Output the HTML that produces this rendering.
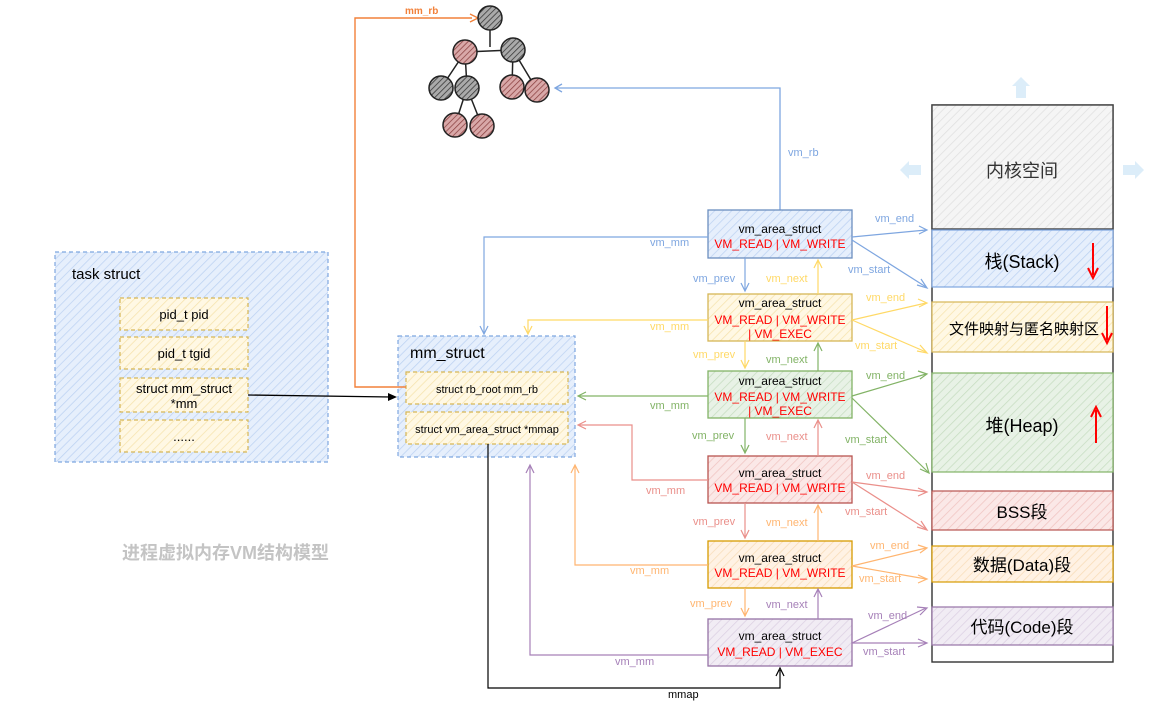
<!DOCTYPE html>
<html><head><meta charset="utf-8"><style>
html,body{margin:0;padding:0;background:#fff;}
svg{display:block;font-family:"Liberation Sans","Noto Sans CJK SC",sans-serif;}
</style></head><body>
<svg width="1175" height="725" viewBox="0 0 1175 725" xmlns="http://www.w3.org/2000/svg">
<defs>
<pattern id="hb" width="6" height="6" patternUnits="userSpaceOnUse" patternTransform="rotate(45)"><rect width="6" height="6" fill="#e6effc"/><line x1="0" y1="0" x2="0" y2="6" stroke="#bcd2f2" stroke-width="1.5"/></pattern>
<pattern id="hy" width="6" height="6" patternUnits="userSpaceOnUse" patternTransform="rotate(45)"><rect width="6" height="6" fill="#fff8e4"/><line x1="0" y1="0" x2="0" y2="6" stroke="#f6e3ad" stroke-width="1.5"/></pattern>
<pattern id="hg" width="6" height="6" patternUnits="userSpaceOnUse" patternTransform="rotate(45)"><rect width="6" height="6" fill="#e8f2e6"/><line x1="0" y1="0" x2="0" y2="6" stroke="#c6ddc1" stroke-width="1.5"/></pattern>
<pattern id="hr" width="6" height="6" patternUnits="userSpaceOnUse" patternTransform="rotate(45)"><rect width="6" height="6" fill="#fbe8e7"/><line x1="0" y1="0" x2="0" y2="6" stroke="#f0c3c0" stroke-width="1.5"/></pattern>
<pattern id="ho" width="6" height="6" patternUnits="userSpaceOnUse" patternTransform="rotate(45)"><rect width="6" height="6" fill="#fff2e4"/><line x1="0" y1="0" x2="0" y2="6" stroke="#f8dcb8" stroke-width="1.5"/></pattern>
<pattern id="hp" width="6" height="6" patternUnits="userSpaceOnUse" patternTransform="rotate(45)"><rect width="6" height="6" fill="#f1ecf4"/><line x1="0" y1="0" x2="0" y2="6" stroke="#dcd0e3" stroke-width="1.5"/></pattern>
<pattern id="hk" width="6" height="6" patternUnits="userSpaceOnUse" patternTransform="rotate(45)"><rect width="6" height="6" fill="#f5f5f5"/><line x1="0" y1="0" x2="0" y2="6" stroke="#e0e0e0" stroke-width="1.5"/></pattern>
<pattern id="tg" width="4" height="4" patternUnits="userSpaceOnUse" patternTransform="rotate(45)"><rect width="4" height="4" fill="#aaa"/><line x1="0" y1="0" x2="0" y2="4" stroke="#333" stroke-width="1.5"/></pattern>
<pattern id="tr" width="4" height="4" patternUnits="userSpaceOnUse" patternTransform="rotate(45)"><rect width="4" height="4" fill="#d9a8a8"/><line x1="0" y1="0" x2="0" y2="4" stroke="#8a4040" stroke-width="1.5"/></pattern>
</defs>

<rect x="55" y="252" width="273" height="210" fill="url(#hb)" stroke="#7ea6e0" stroke-dasharray="4 3" stroke-width="1.2"/>
<text x="72" y="279" font-size="15" fill="#000">task struct</text>
<g fill="url(#hy)" stroke="#d6b656" stroke-dasharray="4 3" stroke-width="1.2">
<rect x="120" y="298" width="128" height="32"/><rect x="120" y="337" width="128" height="32"/>
<rect x="120" y="378" width="128" height="34"/><rect x="120" y="420" width="128" height="32"/></g>
<g font-size="13" text-anchor="middle" fill="#000">
<text x="184" y="319">pid_t pid</text><text x="184" y="358">pid_t tgid</text>
<text x="184" y="393">struct mm_struct</text><text x="184" y="408">*mm</text><text x="184" y="441">......</text></g>

<text x="122" y="559" font-size="18" font-weight="bold" fill="#c4c4c4">进程虚拟内存VM结构模型</text>

<rect x="398" y="336" width="177" height="121" fill="url(#hb)" stroke="#7ea6e0" stroke-dasharray="4 3" stroke-width="1.2"/>
<text x="410" y="358" font-size="16" fill="#000">mm_struct</text>
<g fill="url(#hy)" stroke="#d6b656" stroke-dasharray="4 3" stroke-width="1.2">
<rect x="406" y="372" width="162" height="32"/><rect x="406" y="412" width="162" height="32"/></g>
<text x="487" y="393" font-size="11" text-anchor="middle">struct rb_root mm_rb</text>
<text x="487" y="433" font-size="11" text-anchor="middle">struct vm_area_struct *mmap</text>

<path d="M248 395 L392 397" stroke="#000" fill="none" stroke-width="1.3"/>
<path d="M388 393 L397 397 L388 401Z" fill="#000"/>

<path d="M406 387 L355 387 L355 18 L472 18" stroke="#f2813a" fill="none" stroke-width="1.4"/>
<path d="M470 14 L478 18 L470 22" stroke="#f2813a" fill="none" stroke-width="1.4"/>
<text x="405" y="14" font-size="10" font-weight="bold" fill="#f2813a">mm_rb</text>

<g stroke="#222" stroke-width="1.5" fill="none">
<path d="M490 30 L490 47 M465 52 L513 50 M465 52 L441 88 M465 52 L467 88 M513 50 L512 87 M513 50 L537 90 M467 88 L455 125 M467 88 L482 126"/>
</g>
<g stroke="#222" stroke-width="1.5">
<circle cx="490" cy="18" r="12" fill="url(#tg)"/>
<circle cx="465" cy="52" r="12" fill="url(#tr)"/>
<circle cx="513" cy="50" r="12" fill="url(#tg)"/>
<circle cx="441" cy="88" r="12" fill="url(#tg)"/>
<circle cx="467" cy="88" r="12" fill="url(#tg)"/>
<circle cx="512" cy="87" r="12" fill="url(#tr)"/>
<circle cx="537" cy="90" r="12" fill="url(#tr)"/>
<circle cx="455" cy="125" r="12" fill="url(#tr)"/>
<circle cx="482" cy="126" r="12" fill="url(#tr)"/>
</g>

<path d="M780 210 L780 88 L556 88" stroke="#7ea6e0" fill="none" stroke-width="1.3"/>
<path d="M562 84 L555 88 L562 92" stroke="#7ea6e0" fill="none" stroke-width="1.3"/>
<text x="788" y="156" font-size="11" fill="#7ea6e0">vm_rb</text>

<rect x="932" y="105" width="181" height="557" fill="#fff" stroke="#333" stroke-width="1.4"/>
<rect x="932" y="105" width="181" height="124" fill="url(#hk)" stroke="#444" stroke-width="1.4"/>
<text x="1022" y="177" font-size="18" text-anchor="middle" fill="#333">内核空间</text>
<g fill="#dcedf9"><path d="M1016 98 L1016 86 L1012 86 L1021 77 L1030 86 L1026 86 L1026 98Z"/>
<path d="M921 165 L909 165 L909 161 L900 170 L909 179 L909 175 L921 175Z"/>
<path d="M1123 165 L1135 165 L1135 161 L1144 170 L1135 179 L1135 175 L1123 175Z"/></g>
<rect x="932" y="230" width="181" height="57" fill="url(#hb)" stroke="#7ea6e0" stroke-width="1.2"/>
<text x="1022" y="268" font-size="18" text-anchor="middle">栈(Stack)</text>
<path d="M1093 243 L1093 275 M1088 268 L1093 278 L1098 268" stroke="#f00" stroke-width="2" fill="none"/>
<rect x="932" y="302" width="181" height="50" fill="url(#hy)" stroke="#d6b656" stroke-width="1.2"/>
<text x="1024" y="334" font-size="15" text-anchor="middle">文件映射与匿名映射区</text>
<path d="M1107 306 L1107 340 M1102 333 L1107 343 L1112 333" stroke="#f00" stroke-width="2" fill="none"/>
<rect x="932" y="373" width="181" height="99" fill="url(#hg)" stroke="#82b366" stroke-width="1.2"/>
<text x="1022" y="432" font-size="18" text-anchor="middle">堆(Heap)</text>
<path d="M1096 443 L1096 410 M1091 417 L1096 407 L1101 417" stroke="#f00" stroke-width="2" fill="none"/>
<rect x="932" y="491" width="181" height="39" fill="url(#hr)" stroke="#b85450" stroke-width="1.2"/>
<text x="1022" y="518" font-size="17" text-anchor="middle">BSS段</text>
<rect x="932" y="546" width="181" height="36" fill="url(#ho)" stroke="#d79b00" stroke-width="1.2"/>
<text x="1022" y="571" font-size="17" text-anchor="middle">数据(Data)段</text>
<rect x="932" y="607" width="181" height="38" fill="url(#hp)" stroke="#9673a6" stroke-width="1.2"/>
<text x="1022" y="633" font-size="17" text-anchor="middle">代码(Code)段</text>

<g stroke-width="1.3">
<rect x="708" y="210" width="144" height="48" fill="url(#hb)" stroke="#6c8ebf"/>
<rect x="708" y="294" width="144" height="47" fill="url(#hy)" stroke="#d6b656"/>
<rect x="708" y="371" width="144" height="47" fill="url(#hg)" stroke="#82b366"/>
<rect x="708" y="456" width="144" height="47" fill="url(#hr)" stroke="#b85450"/>
<rect x="708" y="541" width="144" height="47" fill="url(#ho)" stroke="#d79b00"/>
<rect x="708" y="619" width="144" height="47" fill="url(#hp)" stroke="#9673a6"/>
</g>
<g font-size="12" text-anchor="middle">
<text x="780" y="233">vm_area_struct</text><text x="780" y="248" fill="#f00">VM_READ | VM_WRITE</text>
<text x="780" y="307">vm_area_struct</text><text x="780" y="324" fill="#f00">VM_READ | VM_WRITE</text><text x="780" y="338" fill="#f00">| VM_EXEC</text>
<text x="780" y="385">vm_area_struct</text><text x="780" y="401" fill="#f00">VM_READ | VM_WRITE</text><text x="780" y="415" fill="#f00">| VM_EXEC</text>
<text x="780" y="477">vm_area_struct</text><text x="780" y="492" fill="#f00">VM_READ | VM_WRITE</text>
<text x="780" y="562">vm_area_struct</text><text x="780" y="577" fill="#f00">VM_READ | VM_WRITE</text>
<text x="780" y="640">vm_area_struct</text><text x="780" y="656" fill="#f00">VM_READ | VM_EXEC</text>
</g>

<g fill="none" stroke-width="1.2" font-size="11">
<g stroke="#7ea6e0">
<path d="M708 237 L484 237 L484 333"/><path d="M480 326 L484 334 L488 326"/>
<path d="M852 237 L926 230"/><path d="M919 226 L927 230 L919 234"/>
<path d="M852 240 L926 287"/><path d="M917 285 L927 288 L921 279"/>
<path d="M745 258 L745 290"/><path d="M741 283 L745 291 L749 283"/>
</g>
<g fill="#7ea6e0" stroke="none"><text x="650" y="246">vm_mm</text><text x="875" y="222">vm_end</text><text x="848" y="273">vm_start</text><text x="693" y="282">vm_prev</text></g>
<g stroke="#ffd966">
<path d="M708 320 L528 320 L528 333"/><path d="M524 326 L528 334 L532 326"/>
<path d="M852 320 L926 303"/><path d="M918 299 L927 303 L919 307"/>
<path d="M852 320 L926 352"/><path d="M917 351 L927 353 L920 345"/>
<path d="M818 294 L818 261"/><path d="M814 268 L818 260 L822 268"/>
<path d="M745 341 L745 367"/><path d="M741 360 L745 368 L749 360"/>
</g>
<g fill="#ffd966" stroke="none"><text x="650" y="330">vm_mm</text><text x="866" y="301">vm_end</text><text x="855" y="349">vm_start</text><text x="766" y="282">vm_next</text><text x="693" y="358">vm_prev</text></g>
<g stroke="#82b366">
<path d="M708 396 L579 396"/><path d="M586 392 L578 396 L586 400"/>
<path d="M852 396 L926 374"/><path d="M918 371 L927 374 L920 379"/>
<path d="M852 398 L928 472"/><path d="M920 469 L929 473 L926 463"/>
<path d="M818 371 L818 344"/><path d="M814 351 L818 343 L822 351"/>
<path d="M745 418 L745 452"/><path d="M741 445 L745 453 L749 445"/>
</g>
<g fill="#82b366" stroke="none"><text x="650" y="409">vm_mm</text><text x="866" y="379">vm_end</text><text x="845" y="443">vm_start</text><text x="766" y="363">vm_next</text><text x="692" y="439">vm_prev</text></g>
<g stroke="#ea8f8a">
<path d="M708 480 L632 480 L632 425 L579 425"/><path d="M586 421 L578 425 L586 429"/>
<path d="M852 482 L926 492"/><path d="M918 488 L927 492 L918 496"/>
<path d="M852 482 L926 529"/><path d="M917 527 L927 530 L921 521"/>
<path d="M818 456 L818 421"/><path d="M814 428 L818 420 L822 428"/>
<path d="M745 503 L745 537"/><path d="M741 530 L745 538 L749 530"/>
</g>
<g fill="#ea8f8a" stroke="none"><text x="646" y="494">vm_mm</text><text x="866" y="479">vm_end</text><text x="845" y="515">vm_start</text><text x="766" y="440">vm_next</text><text x="693" y="525">vm_prev</text></g>
<g stroke="#ffb570">
<path d="M708 565 L575 565 L575 466"/><path d="M571 473 L575 465 L579 473"/>
<path d="M852 566 L926 548"/><path d="M918 545 L927 548 L920 553"/>
<path d="M852 566 L926 579"/><path d="M918 575 L927 579 L918 583"/>
<path d="M818 541 L818 506"/><path d="M814 513 L818 505 L822 513"/>
<path d="M745 588 L745 615"/><path d="M741 608 L745 616 L749 608"/>
</g>
<g fill="#ffb570" stroke="none"><text x="630" y="574">vm_mm</text><text x="870" y="549">vm_end</text><text x="859" y="582">vm_start</text><text x="766" y="526">vm_next</text><text x="690" y="607">vm_prev</text></g>
<g stroke="#a680b8">
<path d="M708 655 L530 655 L530 466"/><path d="M526 473 L530 465 L534 473"/>
<path d="M852 643 L926 608"/><path d="M917 607 L927 608 L920 615"/>
<path d="M852 643 L926 643"/><path d="M918 639 L927 643 L918 647"/>
<path d="M818 619 L818 590"/><path d="M814 597 L818 589 L822 597"/>
</g>
<g fill="#a680b8" stroke="none"><text x="615" y="665">vm_mm</text><text x="868" y="619">vm_end</text><text x="863" y="655">vm_start</text><text x="766" y="608">vm_next</text></g>
<g stroke="#000">
<path d="M488 444 L488 688 L780 688 L780 670"/><path d="M776 676 L780 668 L784 676"/>
</g>
<text x="668" y="698" fill="#000" stroke="none">mmap</text>
</g>
</svg>
</body></html>
